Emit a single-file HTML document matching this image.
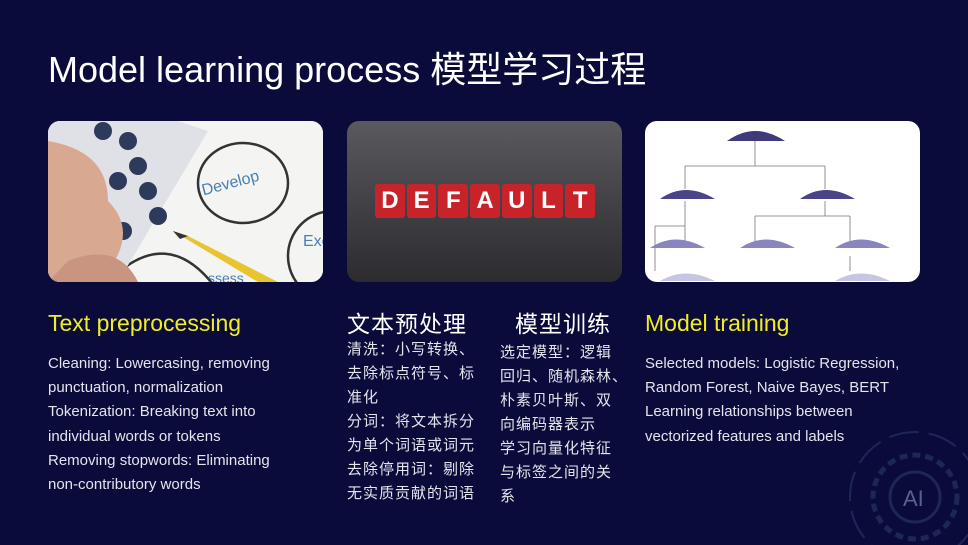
<!DOCTYPE html>
<html><head><meta charset="utf-8"><style>
*{margin:0;padding:0;box-sizing:border-box}
body{width:968px;height:545px;background:#0b0b3b;position:relative;overflow:hidden;font-family:"Liberation Sans","Noto Sans CJK SC",sans-serif;color:#e4e4ec}
.abs{position:absolute}
.title{left:48px;top:41px;font-size:36px;color:#fff;white-space:nowrap}
.img{top:121px;width:275px;height:161px;border-radius:12px;overflow:hidden}
.h{font-size:23px;white-space:nowrap}
.y{color:#f0ee22}
.b{font-size:15px;line-height:24.2px;white-space:nowrap}
.zh{font-size:15px;line-height:24px;letter-spacing:1px}
</style></head><body>
<div class="abs title">Model learning process 模型学习过程</div>

<div class="abs img" style="left:48px;background:#f2f2f0">
<svg width="275" height="161">
<rect width="275" height="161" fill="#f4f4f2"/>
<g fill="none" stroke="#333" stroke-width="2.5">
<ellipse cx="195" cy="62" rx="45" ry="40"/>
<ellipse cx="285" cy="135" rx="45" ry="45"/>
<ellipse cx="310" cy="20" rx="20" ry="35"/>
<path d="M60 161 Q120 100 170 170"/>
</g>
<text x="155" y="68" font-size="16" fill="#4a7fb5" transform="rotate(-15 180 70)" font-family="Liberation Sans">Develop</text>
<text x="255" y="125" font-size="16" fill="#4a7fb5" font-family="Liberation Sans">Exe</text>
<text x="160" y="162" font-size="14" fill="#4a7fb5" font-family="Liberation Sans">ssess</text>
<polygon points="0,0 130,0 160,10 70,161 0,161" fill="#dfe1e6"/>
<g fill="#2e3a5a">
<circle cx="55" cy="10" r="9"/><circle cx="80" cy="20" r="9"/><circle cx="90" cy="45" r="9"/><circle cx="100" cy="70" r="9"/><circle cx="110" cy="95" r="9"/><circle cx="70" cy="60" r="9"/><circle cx="75" cy="110" r="9"/><circle cx="45" cy="100" r="9"/>
</g>
<path d="M0 20 Q60 30 60 80 Q90 110 60 150 L0 161Z" fill="#d9a890"/>
<path d="M20 140 Q70 120 90 161 L0 161Z" fill="#c99480"/>
<polygon points="125,110 140,115 230,161 210,161" fill="#e8c530"/>
<polygon points="125,110 140,115 132,118" fill="#333"/>
</svg></div>

<div class="abs img" style="left:347px;background:linear-gradient(#5a5a5e,#3e3e42 60%,#2c2c30)">
<div class="abs" style="left:28px;top:63px;width:220px;height:34px;display:flex;gap:2px">
<div style="flex:1;background:#c8232a;border-radius:3px;color:#fff;font-weight:bold;font-size:24px;text-align:center;line-height:34px">D</div>
<div style="flex:1;background:#c8232a;border-radius:3px;color:#fff;font-weight:bold;font-size:24px;text-align:center;line-height:34px">E</div>
<div style="flex:1;background:#c8232a;border-radius:3px;color:#fff;font-weight:bold;font-size:24px;text-align:center;line-height:34px">F</div>
<div style="flex:1;background:#c8232a;border-radius:3px;color:#fff;font-weight:bold;font-size:24px;text-align:center;line-height:34px">A</div>
<div style="flex:1;background:#c8232a;border-radius:3px;color:#fff;font-weight:bold;font-size:24px;text-align:center;line-height:34px">U</div>
<div style="flex:1;background:#c8232a;border-radius:3px;color:#fff;font-weight:bold;font-size:24px;text-align:center;line-height:34px">L</div>
<div style="flex:1;background:#c8232a;border-radius:3px;color:#fff;font-weight:bold;font-size:24px;text-align:center;line-height:34px">T</div>
</div></div>

<div class="abs img" style="left:645px;background:#fff">
<svg width="275" height="161">
<g stroke="#777" fill="none" stroke-width="0.8">
<path d="M110 20 V45 M40 45 H180 M40 45 V68 M180 45 V68 M40 80 V105 M10 105 H40 V125 M180 80 V95 M110 95 H205 M110 95 V125 M205 95 V125 M10 105 V150 M205 135 V150"/>
</g>
<g fill="#3f3a7a"><path d="M82 20 Q110 0 140 20 Z"/></g>
<g fill="#4a4588"><path d="M15 78 Q40 60 70 78Z"/><path d="M155 78 Q180 60 210 78Z"/></g>
<g fill="#8a85c0"><path d="M5 127 Q30 110 60 127Z"/><path d="M95 127 Q120 110 150 127Z"/><path d="M190 127 Q215 110 245 127Z"/></g>
<g fill="#c8c4e4"><path d="M15 160 Q40 145 70 160Z"/><path d="M190 160 Q215 145 245 160Z"/></g>
</svg></div>

<div class="abs h y" style="left:48px;top:310px">Text preprocessing</div>
<div class="abs b" style="left:48px;top:352px">Cleaning: Lowercasing, removing<br>punctuation, normalization<br>Tokenization: Breaking text into<br>individual words or tokens<br>Removing stopwords: Eliminating<br>non-contributory words</div>

<div class="abs h" style="left:347px;top:305px;color:#fff;letter-spacing:1px">文本预处理</div>
<div class="abs zh" style="left:347px;top:338px;width:135px">清洗：小写转换、<br>去除标点符号、标<br>准化<br>分词：将文本拆分<br>为单个词语或词元<br>去除停用词：剔除<br>无实质贡献的词语</div>

<div class="abs h" style="left:515px;top:305px;color:#fff;letter-spacing:1px">模型训练</div>
<div class="abs zh" style="left:500px;top:341px;width:135px">选定模型：逻辑<br>回归、随机森林、<br>朴素贝叶斯、双<br>向编码器表示<br>学习向量化特征<br>与标签之间的关<br>系</div>

<div class="abs h y" style="left:645px;top:310px">Model training</div>
<div class="abs b" style="left:645px;top:352px">Selected models: Logistic Regression,<br>Random Forest, Naive Bayes, BERT<br>Learning relationships between<br>vectorized features and labels</div>

<svg class="abs" style="left:820px;top:400px" width="148" height="145" opacity="0.6">
<g fill="none" stroke="#2a3a6a" stroke-width="3">
<circle cx="95" cy="97" r="25"/>
<circle cx="95" cy="97" r="42" stroke-dasharray="8 5" stroke-width="5"/>
<circle cx="95" cy="97" r="65" stroke-width="2" stroke-dasharray="30 10"/>
</g>
<text x="83" y="106" font-size="22" fill="#8a9ac8" font-family="Liberation Sans">AI</text>
</svg>
</body></html>
